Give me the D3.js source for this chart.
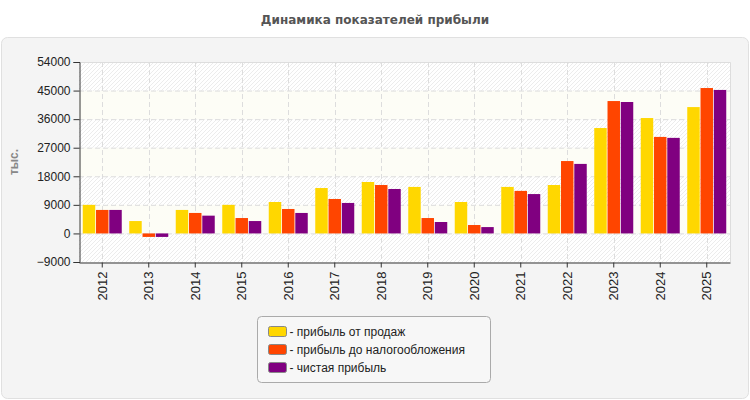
<!DOCTYPE html>
<html>
<head>
<meta charset="utf-8">
<script src="https://cdn.jsdelivr.net/npm/d3@7"></script>
<style>
  body { margin: 0; background: #fff; font-family: "Liberation Sans", Arial, sans-serif; }
</style>
</head>
<body>
<script>
// данные
var years = ["2012","2013","2014","2015","2016","2017","2018","2019","2020","2021","2022","2023","2024","2025"]
var prodazhi = [9000, 3900, 7400, 9000, 9900, 14300, 16200, 14650, 9900, 14650, 15250, 33200, 36350, 39800]
var doNaloga = [7400, -1100, 6450, 4850, 7700, 10850, 15250, 4850, 2650, 13400, 22800, 41700, 30400, 45800]
var chistaya = [7400, -1100, 5600, 3900, 6450, 9600, 14000, 3600, 2000, 12400, 21900, 41400, 30100, 45200]
var seriesNames = ["- прибыль от продаж", "- прибыль до налогообложения", "- чистая прибыль"]
var seriesColors = ["#FFD700", "#FF4500", "#800080"]
var yTicks = [-9000, 0, 9000, 18000, 27000, 36000, 45000, 54000]

var width = 750, height = 400
var margin = {top: 62, left: 79, right: 20, bottom: 138}

var svg = d3.select("body").append("svg")
  .attr("width", width)
  .attr("height", height)

// штриховка
var defs = svg.append("defs")
var pat = defs.append("pattern")
  .attr("id", "hatch")
  .attr("patternUnits", "userSpaceOnUse")
  .attr("width", 4).attr("height", 4)
pat.append("rect").attr("width", 4).attr("height", 4).attr("fill", "#fff")
pat.append("path").attr("d", "M-1,1 l2,-2 M0,4 l4,-4 M3,5 l2,-2")
  .attr("stroke", "#ececec").attr("stroke-width", 1)

// фон панели
svg.append("rect")
  .attr("x", 1.5).attr("y", 37.5)
  .attr("width", width - 3).attr("height", height - 39)
  .attr("rx", 6)
  .attr("fill", "#f4f4f4")
  .attr("stroke", "#e0e0e0")

svg.append("text")
  .attr("x", width / 2).attr("y", 24)
  .attr("text-anchor", "middle")
  .attr("font-family", "'DejaVu Sans', sans-serif")
  .attr("font-size", 12).attr("font-weight", "bold")
  .attr("fill", "#555")
  .text("Динамика показателей прибыли")

var x = d3.scaleBand()
  .domain(years)
  .range([margin.left, width - margin.right])

var y = d3.scaleLinear()
  .domain([-9000, 54000])
  .range([height - margin.bottom, margin.top])

var xInner = d3.scaleBand()
  .domain([0, 1, 2])
  .range([0, 39])
  .paddingInner(0.06)

// полосы фона
for (var i = 0; i < yTicks.length - 1; i++) {
  svg.append("rect")
    .attr("x", margin.left)
    .attr("y", y(yTicks[i + 1]))
    .attr("width", x.range()[1] - margin.left)
    .attr("height", y(yTicks[i]) - y(yTicks[i + 1]))
    .attr("fill", i % 2 == 0 ? "url(#hatch)" : "#fdfdf6")
}

// сетка
svg.append("g").selectAll("line")
  .data(yTicks.slice(1))
  .enter().append("line")
  .attr("x1", margin.left).attr("x2", x.range()[1])
  .attr("y1", d => y(d) + 0.5).attr("y2", d => y(d) + 0.5)
  .attr("stroke", "#ddd").attr("stroke-dasharray", "5,3")

svg.append("g").selectAll("line")
  .data(years)
  .enter().append("line")
  .attr("x1", d => Math.round(x(d) + x.bandwidth() / 2) + 0.5)
  .attr("x2", d => Math.round(x(d) + x.bandwidth() / 2) + 0.5)
  .attr("y1", margin.top).attr("y2", y(-9000))
  .attr("stroke", "#ddd").attr("stroke-dasharray", "5,3")

// рамка
svg.append("path")
  .attr("d", "M" + margin.left + "," + (margin.top + 0.5) + "H" + (x.range()[1] + 0.5) + "V" + y(-9000))
  .attr("fill", "none").attr("stroke", "#ddd")

// столбцы
var allSeries = [prodazhi, doNaloga, chistaya]
allSeries.forEach(function (vals, s) {
  svg.append("g").selectAll("rect")
    .data(vals)
    .enter().append("rect")
    .attr("x", (d, j) => x(years[j]) + x.bandwidth() / 2 - 19.5 + xInner(s))
    .attr("width", xInner.bandwidth())
    .attr("y", d => y(Math.max(0, d)))
    .attr("height", d => Math.abs(y(d) - y(0)))
    .attr("fill", seriesColors[s])
})

// оси
var ejeY = d3.axisLeft(y).tickValues(yTicks).tickSize(6).tickFormat(d3.format("d"))
var gy = svg.append("g")
  .attr("transform", "translate(" + (margin.left + 0.5) + ",0)")
  .call(ejeY)
gy.selectAll("text").attr("font-size", 12).attr("fill", "#222")
  .attr("font-family", "'Liberation Sans', Arial, sans-serif")
gy.selectAll("path, line").attr("stroke", "#333")

var ejeX = d3.axisBottom(x).tickSize(5).tickSizeOuter(0)
var gx = svg.append("g")
  .attr("transform", "translate(0," + (y(-9000) + 0.5) + ")")
  .call(ejeX)
gx.selectAll("path, line").attr("stroke", "#333")
gx.selectAll("text")
  .attr("font-size", 13).attr("fill", "#222")
  .attr("font-family", "'Liberation Sans', Arial, sans-serif")
  .attr("transform", "rotate(-90)")
  .attr("text-anchor", "end")
  .attr("x", -9).attr("y", 0).attr("dy", "0.35em")

svg.append("text")
  .attr("transform", "translate(18," + ((margin.top + y(-9000)) / 2) + ") rotate(-90)")
  .attr("text-anchor", "middle")
  .attr("font-size", 12).attr("font-weight", "bold")
  .attr("fill", "#888")
  .text("тыс.")

// легенда
var leg = svg.append("g").attr("transform", "translate(257.5,316.5)")
leg.append("rect")
  .attr("width", 233).attr("height", 66).attr("rx", 4)
  .attr("fill", "#f7f7f7").attr("stroke", "#aaa")
var items = leg.selectAll("g.item")
  .data(seriesNames)
  .enter().append("g")
  .attr("transform", (d, i) => "translate(11," + (10 + i * 18) + ")")
items.append("rect")
  .attr("width", 18).attr("height", 10).attr("rx", 2)
  .attr("fill", (d, i) => seriesColors[i])
  .attr("stroke", "#888")
items.append("text")
  .attr("x", 21).attr("y", 5).attr("dy", "0.35em")
  .attr("font-size", 12).attr("fill", "#222")
  .text(d => d)
</script>
</body>
</html>
